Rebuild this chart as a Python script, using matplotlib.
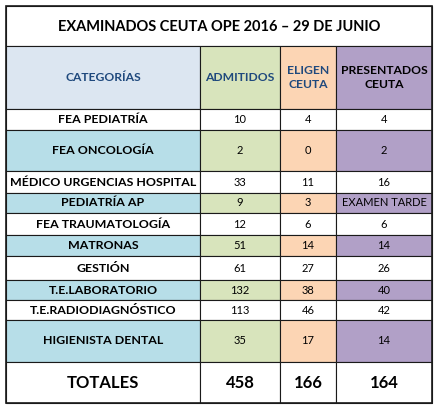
import matplotlib
matplotlib.use("Agg")
import matplotlib.pyplot as plt
from matplotlib.patches import Rectangle

title = "EXAMINADOS CEUTA OPE 2016 – 29 DE JUNIO"
headers = ["CATEGORÍAS", "ADMITIDOS", "ELIGEN\nCEUTA", "PRESENTADOS\nCEUTA"]
categories = ["FEA PEDIATRÍA", "FEA ONCOLOGÍA", "MÉDICO URGENCIAS HOSPITAL", "PEDIATRÍA AP",
              "FEA TRAUMATOLOGÍA", "MATRONAS", "GESTIÓN", "T.E.LABORATORIO",
              "T.E.RADIODIAGNÓSTICO", "HIGIENISTA DENTAL"]
admitidos = ["10", "2", "33", "9", "12", "51", "61", "132", "113", "35"]
eligen = ["4", "0", "11", "3", "6", "14", "27", "38", "46", "17"]
presentados = ["4", "2", "16", "EXAMEN TARDE", "6", "14", "26", "40", "42", "14"]
totals = ["TOTALES", "458", "166", "164"]

W, H = 439, 408
fig = plt.figure(figsize=(W/100, H/100), dpi=100)
ax = fig.add_axes([0, 0, 1, 1])
ax.set_xlim(0, W); ax.set_ylim(H, 0); ax.axis("off")

FONT = "Lato"
cols = [6, 200, 280, 336, 432]
rows = [109, 130, 171, 193, 213, 235, 256, 280, 300, 320, 362, 403]
top, title_b, head_b = 6, 46, 109
header_fill = ["#DCE6F1", "#D8E4BC", "#FCD5B4", "#B1A0C7"]
shade_fill = ["#B7DEE8", "#D8E4BC", "#FCD5B4", "#B1A0C7"]
header_col = ["#1F497D", "#1F497D", "#1F497D", "#000000"]
lc = "#1a1a1a"

def cell(x0, x1, y0, y1, fc):
    ax.add_patch(Rectangle((x0, y0), x1 - x0, y1 - y0, facecolor=fc, edgecolor=lc, lw=0.8))

# title
cell(cols[0], cols[-1], top, title_b, "white")
ax.text((cols[0]+cols[-1])/2, (top+title_b)/2 + 1, title, ha="center", va="center",
        fontsize=10.5, fontweight="bold", family=FONT, color="black")
# header
for j in range(4):
    cell(cols[j], cols[j+1], title_b, head_b, header_fill[j])
    ax.text((cols[j]+cols[j+1])/2, (title_b+head_b)/2, headers[j], ha="center", va="center",
            fontsize=8.7, fontweight="bold", family=FONT, color=header_col[j], linespacing=1.3)
# body
for i in range(len(categories)):
    y0, y1 = rows[i], rows[i+1]
    shaded = i % 2 == 1
    vals = [categories[i], admitidos[i], eligen[i], presentados[i]]
    for j in range(4):
        cell(cols[j], cols[j+1], y0, y1, shade_fill[j] if shaded else "white")
        ax.text((cols[j]+cols[j+1])/2, (y0+y1)/2, vals[j], ha="center", va="center",
                fontsize=8.9 if j == 0 else 8, fontweight="bold" if j == 0 else "normal",
                family=FONT, color="black")
# totals
y0, y1 = rows[-2], rows[-1]
for j in range(4):
    cell(cols[j], cols[j+1], y0, y1, "white")
    ax.text((cols[j]+cols[j+1])/2, (y0+y1)/2, totals[j], ha="center", va="center",
            fontsize=12, fontweight="bold", family=FONT, color="black")
# outer border
ax.add_patch(Rectangle((cols[0], top), cols[-1]-cols[0], rows[-1]-top, fill=False, edgecolor=lc, lw=1.2))

fig.savefig("out.png", dpi=100, facecolor="white")
